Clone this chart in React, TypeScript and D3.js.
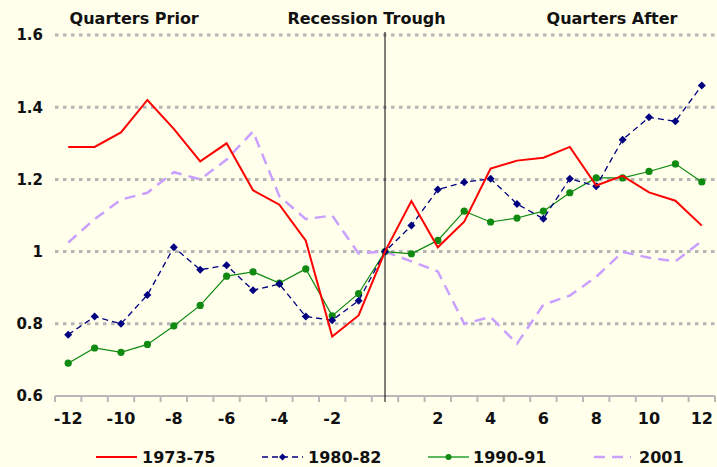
import React from 'react'
import * as d3 from 'd3'

const quarters = d3.range(-12, 13)
const s1973 = [1.29, 1.29, 1.33, 1.42, 1.34, 1.25, 1.30, 1.17, 1.13, 1.03, 0.765, 0.823, 1.0, 1.14, 1.012, 1.083, 1.23, 1.252, 1.26, 1.29, 1.183, 1.21, 1.164, 1.141, 1.072]
const s1980 = [0.77, 0.82, 0.80, 0.88, 1.012, 0.95, 0.962, 0.893, 0.91, 0.82, 0.81, 0.864, 1.0, 1.072, 1.172, 1.192, 1.202, 1.132, 1.091, 1.202, 1.181, 1.31, 1.372, 1.361, 1.46]
const s1990 = [0.691, 0.733, 0.721, 0.743, 0.794, 0.851, 0.932, 0.944, 0.913, 0.952, 0.822, 0.884, 1.0, 0.994, 1.031, 1.112, 1.082, 1.093, 1.112, 1.163, 1.204, 1.204, 1.222, 1.243, 1.193]
const s2001 = [1.025, 1.09, 1.144, 1.163, 1.22, 1.2, 1.255, 1.333, 1.153, 1.09, 1.1, 0.995, 1.0, 0.973, 0.945, 0.8, 0.819, 0.745, 0.853, 0.878, 0.93, 0.999, 0.983, 0.973, 1.029]
const yTicks = [0.6, 0.8, 1, 1.2, 1.4, 1.6]
const xLabels = [-12, -10, -8, -6, -4, -2, 2, 4, 6, 8, 10, 12]
const headers = [
  {text: 'Quarters Prior', at: -9.5},
  {text: 'Recession Trough', at: -0.7},
  {text: 'Quarters After', at: 8.6},
]

const W = 717
const H = 467
const font = '"DejaVu Sans", Verdana, sans-serif'

const App = () => {
  const x = d3.scaleBand<number>().domain(quarters).range([55, 715]).paddingInner(0)
  const bw = x.bandwidth()
  const cx = (q: number) => (x(q) as number) + bw / 2
  const y = d3.scaleLinear().domain([0.6, 1.6]).range([396, 35])

  const line = d3.line<number>()
    .x((d, i) => cx(quarters[i]))
    .y(d => y(d))

  const headerX = d3.scaleLinear().domain([-12, 12]).range([cx(-12), cx(12)])

  const boundaries = d3.range(quarters.length + 1).map(i => 55 + i * bw)

  const diamond = (px: number, py: number, r: number) =>
    `M${px},${py - r}L${px + r},${py}L${px},${py + r}L${px - r},${py}Z`

  const legend = [
    {label: '1973-75', x0: 96, x1: 137, tx: 142},
    {label: '1980-82', x0: 262, x1: 303, tx: 308},
    {label: '1990-91', x0: 428, x1: 469, tx: 473},
    {label: '2001', x0: 594, x1: 631, tx: 639},
  ]

  return (
    <svg width={W} height={H} style={{position: 'absolute', left: 0, top: 0, background: '#FFFFEC'}}>
      <rect width={W} height={H} fill="#FFFFEC"/>
      {/* grid */}
      {yTicks.slice(1).map(t => (
        <line key={t} x1={55} x2={715} y1={y(t)} y2={y(t)} stroke="#b4b4b4" strokeWidth={3} strokeDasharray="3.5,4.5"/>
      ))}
      {/* x axis */}
      <line x1={55} x2={715} y1={y(0.6)} y2={y(0.6)} stroke="#b8b8b8" strokeWidth={2}/>
      {boundaries.map((b, i) => (
        <line key={i} x1={b} x2={b} y1={y(0.6)} y2={y(0.6) + 6} stroke="#b8b8b8" strokeWidth={2}/>
      ))}
      {/* trough line */}
      <line x1={cx(0)} x2={cx(0)} y1={32} y2={402} stroke="#000" strokeWidth={1}/>

      {/* series */}
      <path d={line(s2001) || ''} fill="none" stroke="#C9A0FF" strokeWidth={2.5} strokeDasharray="11,7"/>
      <path d={line(s1990) || ''} fill="none" stroke="#108A10" strokeWidth={1.2}/>
      {s1990.map((v, i) => (
        <circle key={i} cx={cx(quarters[i])} cy={y(v)} r={3.6} fill="#108A10"/>
      ))}
      <path d={line(s1980) || ''} fill="none" stroke="#000080" strokeWidth={1.3} strokeDasharray="6,4"/>
      {s1980.map((v, i) => (
        <path key={i} d={diamond(cx(quarters[i]), y(v), 4)} fill="#000080"/>
      ))}
      <path d={line(s1973) || ''} fill="none" stroke="#FF0000" strokeWidth={2}/>

      {/* y labels */}
      {yTicks.map(t => (
        <text key={t} x={43} y={y(t)} dy="0.36em" textAnchor="end" fontFamily={font} fontWeight="bold" fontSize={15} fill="#111">
          {d3.format('')(+t.toFixed(1))}
        </text>
      ))}
      {/* x labels */}
      {xLabels.map(q => (
        <text key={q} x={cx(q)} y={424} textAnchor="middle" fontFamily={font} fontWeight="bold" fontSize={16} fill="#111">
          {q}
        </text>
      ))}
      {/* headers */}
      {headers.map(h => (
        <text key={h.text} x={headerX(h.at)} y={24} textAnchor="middle" fontFamily={font} fontWeight="bold" fontSize={16} fill="#111">
          {h.text}
        </text>
      ))}

      {/* legend */}
      <g>
        <line x1={legend[0].x0} x2={legend[0].x1} y1={457} y2={457} stroke="#FF0000" strokeWidth={2}/>
        <line x1={legend[1].x0} x2={legend[1].x1} y1={457} y2={457} stroke="#000080" strokeWidth={1.3} strokeDasharray="6,4"/>
        <path d={diamond((legend[1].x0 + legend[1].x1) / 2, 457, 3.5)} fill="#000080"/>
        <line x1={legend[2].x0} x2={legend[2].x1} y1={457} y2={457} stroke="#5DB95D" strokeWidth={2}/>
        <circle cx={(legend[2].x0 + legend[2].x1) / 2} cy={457} r={3} fill="#108A10"/>
        <line x1={legend[3].x0} x2={legend[3].x1} y1={457} y2={457} stroke="#C9A0FF" strokeWidth={2.5} strokeDasharray="11,7"/>
        {legend.map(l => (
          <text key={l.label} x={l.tx} y={463} fontFamily={font} fontWeight="bold" fontSize={16} fill="#111">
            {l.label}
          </text>
        ))}
      </g>
    </svg>
  )
}

export default App
